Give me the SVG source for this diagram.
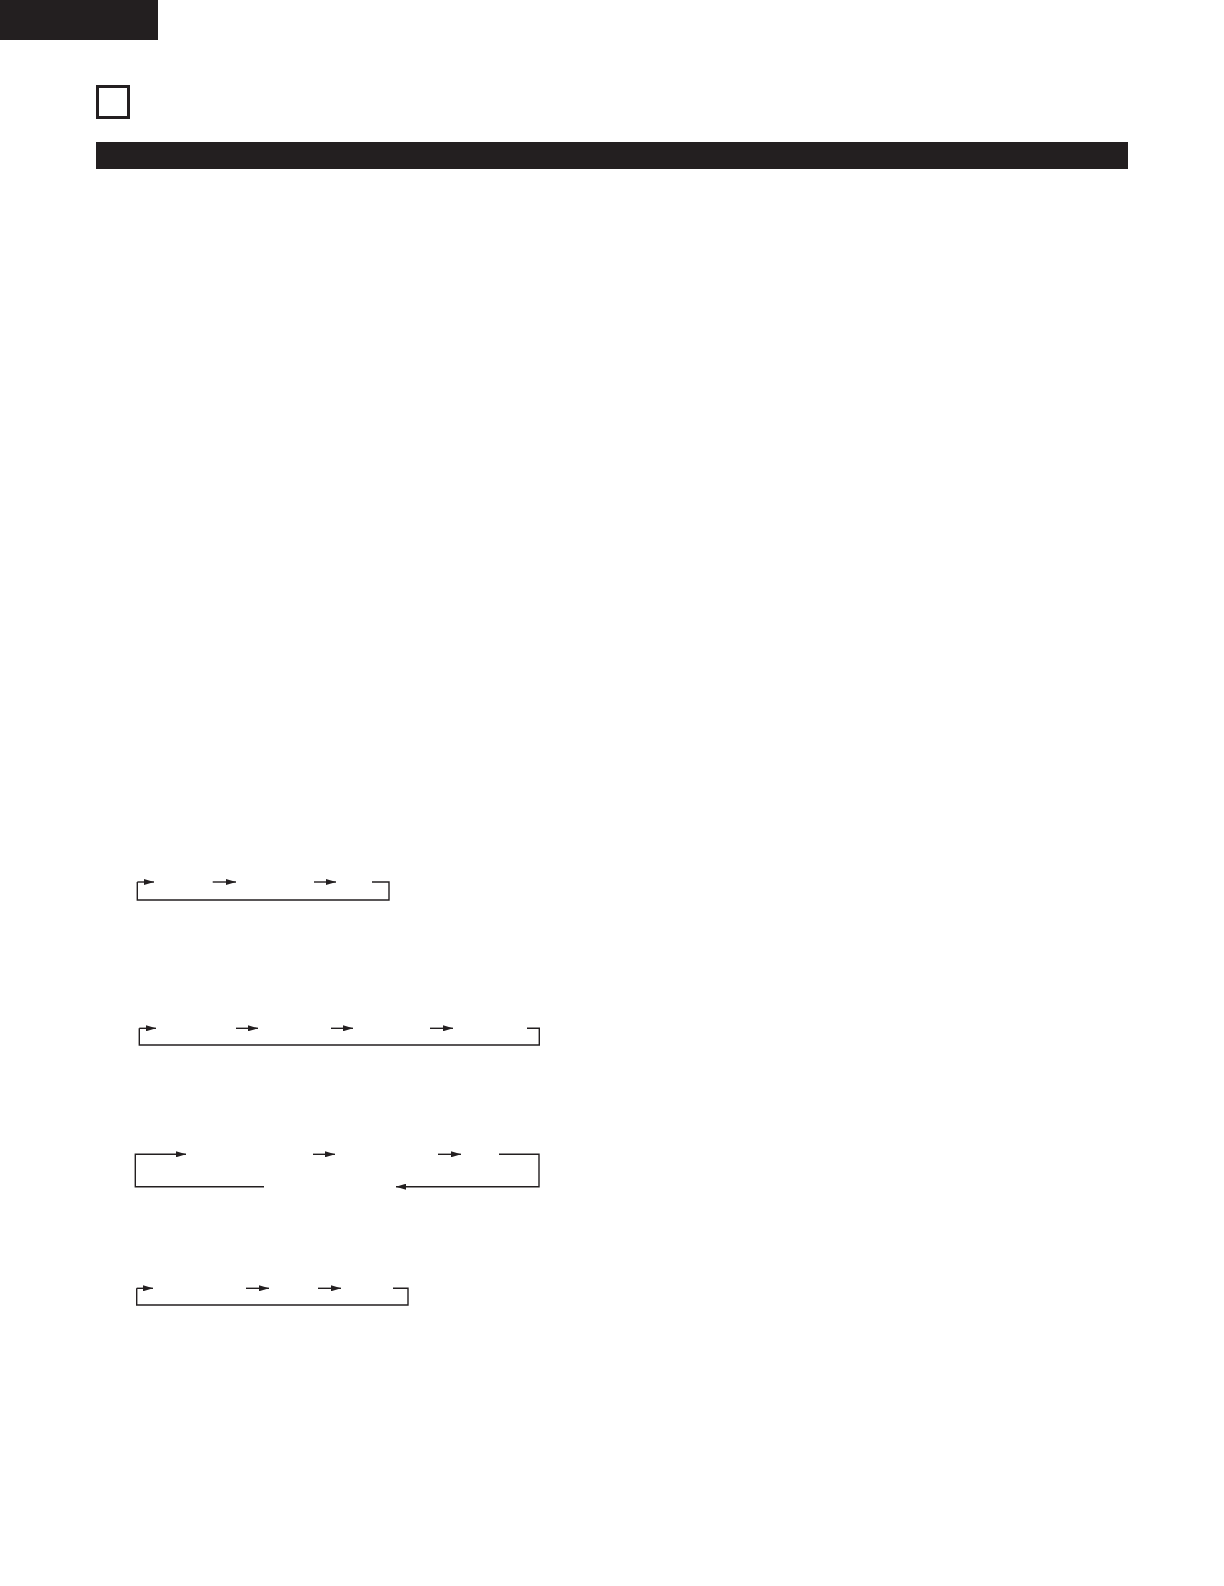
<svg xmlns="http://www.w3.org/2000/svg" width="1224" height="1586" viewBox="0 0 1224 1586">
<style>
.blk{fill:#231f20}
.ln{fill:none;stroke:#231f20;stroke-width:1.4}
</style>
<defs>
<marker id="ah" markerUnits="userSpaceOnUse" markerWidth="10" markerHeight="6" viewBox="0 0 10 6" refX="10" refY="3" orient="auto">
<path d="M0,0 L10,3 L0,6 Z" fill="#231f20"/>
</marker>
</defs>
<rect width="1224" height="1586" fill="#fff"/>
<g id="header">
<rect class="blk" x="0" y="0" width="158" height="40"/>
<rect x="97.5" y="86.5" width="31" height="31" fill="none" stroke="#231f20" stroke-width="3"/>
<rect class="blk" x="96" y="142" width="1032" height="27"/>
</g>
<g id="connectors">
<!-- diagram 1 -->
<path class="ln" d="M137.3,882 H154" marker-end="url(#ah)"/>
<path class="ln" d="M212.7,882 H236" marker-end="url(#ah)"/>
<path class="ln" d="M314,882 H336" marker-end="url(#ah)"/>
<path class="ln" d="M372,882 H389 V900 H137.3 V882"/>
<!-- diagram 2 -->
<path class="ln" d="M139.3,1028.3 H156" marker-end="url(#ah)"/>
<path class="ln" d="M236,1028.3 H258" marker-end="url(#ah)"/>
<path class="ln" d="M331,1028.3 H353" marker-end="url(#ah)"/>
<path class="ln" d="M430,1028.3 H453" marker-end="url(#ah)"/>
<path class="ln" d="M527,1028.3 H539.3 V1045 H139.3 V1028.3"/>
<!-- diagram 3 -->
<path class="ln" d="M264,1186.7 H135.3 V1154.3 H186" marker-end="url(#ah)"/>
<path class="ln" d="M313,1154.3 H335" marker-end="url(#ah)"/>
<path class="ln" d="M438,1154.3 H461" marker-end="url(#ah)"/>
<path class="ln" d="M499,1154.3 H539 V1186.7 H396" marker-end="url(#ah)"/>
<!-- diagram 4 -->
<path class="ln" d="M136.7,1288.3 H153" marker-end="url(#ah)"/>
<path class="ln" d="M246,1288.3 H269" marker-end="url(#ah)"/>
<path class="ln" d="M318,1288.3 H341" marker-end="url(#ah)"/>
<path class="ln" d="M393,1288.3 H408 V1305 H136.7 V1288.3"/>
</g>
</svg>
